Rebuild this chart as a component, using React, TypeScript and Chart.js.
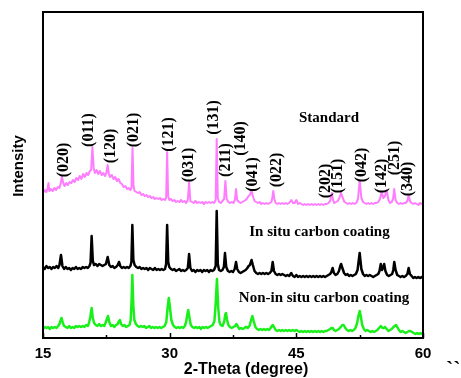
import React, { useEffect, useRef } from "react";
import { Chart, registerables } from "chart.js";

Chart.register(...registerables);

// XRD scans: [2θ (degree), intensity (a.u.)]
const standardScan: [number, number][] = [
  [15.0, 17], [15.2, 20], [15.4, 18], [15.55, 22], [15.65, 27], [15.75, 19], [15.95, 21], [16.15, 19], [16.35, 22], [16.55, 20],
  [16.75, 23], [16.95, 22], [17.1, 27], [17.25, 33], [17.4, 27], [17.55, 24], [17.75, 27], [17.95, 25], [18.15, 28], [18.35, 27],
  [18.55, 30], [18.75, 28], [18.95, 32], [19.15, 30], [19.35, 34], [19.55, 31], [19.75, 36], [19.95, 33], [20.15, 37], [20.35, 35],
  [20.55, 39], [20.7, 40], [20.85, 63], [21.0, 42], [21.15, 37], [21.35, 40], [21.55, 36], [21.75, 39], [21.95, 35], [22.15, 37],
  [22.35, 34], [22.5, 37], [22.66, 45], [22.8, 36], [22.95, 33], [23.15, 35], [23.35, 31], [23.55, 33], [23.75, 29], [23.95, 31],
  [24.15, 27], [24.35, 26], [24.55, 23], [24.75, 24], [24.95, 21], [25.15, 22], [25.35, 20], [25.48, 22], [25.6, 62], [25.72, 24],
  [25.85, 19], [26.05, 18], [26.25, 17], [26.45, 18], [26.65, 15], [26.85, 16], [27.05, 14], [27.25, 15], [27.45, 13], [27.65, 14],
  [27.85, 12], [28.05, 13], [28.25, 11], [28.45, 12], [28.65, 11], [28.85, 12], [29.05, 10], [29.25, 11], [29.45, 10], [29.58, 12],
  [29.7, 58], [29.82, 14], [29.95, 10], [30.15, 11], [30.35, 9], [30.55, 10], [30.75, 8], [30.95, 9], [31.15, 8], [31.35, 10],
  [31.55, 8], [31.75, 9], [31.95, 7], [32.15, 10], [32.3, 28], [32.45, 9], [32.65, 8], [32.85, 7], [33.05, 9], [33.25, 7],
  [33.45, 8], [33.65, 7], [33.85, 8], [34.05, 6], [34.25, 8], [34.45, 7], [34.65, 8], [34.85, 7], [35.05, 8], [35.25, 7],
  [35.45, 10], [35.57, 71], [35.7, 12], [35.85, 8], [36.05, 7], [36.25, 9], [36.45, 11], [36.6, 29], [36.75, 11], [36.95, 8],
  [37.15, 7], [37.35, 8], [37.55, 7], [37.72, 10], [37.86, 21], [38.0, 10], [38.2, 8], [38.4, 7], [38.6, 8], [38.8, 9],
  [39.0, 10], [39.2, 12], [39.35, 14], [39.5, 15], [39.7, 20], [39.85, 14], [40.05, 9], [40.25, 8], [40.45, 7], [40.65, 8],
  [40.85, 6], [41.05, 7], [41.25, 6], [41.45, 7], [41.65, 6], [41.85, 7], [42.05, 8], [42.15, 12], [42.27, 19], [42.4, 11],
  [42.55, 7], [42.75, 6], [42.95, 7], [43.15, 6], [43.35, 7], [43.55, 6], [43.75, 7], [43.95, 6], [44.15, 7], [44.4, 10],
  [44.6, 7], [44.8, 7], [45.0, 10], [45.2, 6], [45.4, 7], [45.6, 6], [45.8, 5], [46.0, 6], [46.2, 5], [46.4, 6],
  [46.6, 5], [46.8, 6], [47.0, 5], [47.2, 6], [47.4, 5], [47.6, 6], [47.8, 5], [48.0, 6], [48.2, 5], [48.4, 6],
  [48.6, 6], [48.8, 7], [49.0, 9], [49.2, 17], [49.35, 10], [49.5, 7], [49.7, 8], [49.9, 9], [50.1, 12], [50.3, 17],
  [50.5, 12], [50.7, 8], [50.9, 7], [51.1, 6], [51.3, 7], [51.5, 6], [51.7, 7], [51.9, 6], [52.1, 7], [52.3, 11],
  [52.5, 30], [52.7, 12], [52.9, 8], [53.1, 7], [53.3, 6], [53.5, 7], [53.7, 6], [53.9, 7], [54.1, 6], [54.3, 7],
  [54.5, 7], [54.7, 8], [54.9, 11], [55.1, 18], [55.3, 12], [55.5, 14], [55.7, 20], [55.9, 10], [56.1, 7], [56.3, 8],
  [56.45, 11], [56.6, 21], [56.75, 10], [56.95, 7], [57.15, 6], [57.35, 7], [57.55, 6], [57.75, 7], [57.95, 7], [58.15, 9],
  [58.3, 15], [58.45, 9], [58.65, 7], [58.85, 6], [59.05, 7], [59.25, 6], [59.45, 5], [59.65, 7], [59.85, 6], [60.0, 7],
];

const inSituScan: [number, number][] = [
  [15.0, 15], [15.2, 13], [15.4, 16], [15.6, 14], [15.8, 15], [16.0, 13], [16.2, 15], [16.4, 14], [16.6, 16], [16.8, 14],
  [16.95, 17], [17.13, 27], [17.3, 16], [17.5, 13], [17.7, 15], [17.9, 13], [18.1, 14], [18.3, 12], [18.5, 14], [18.7, 13],
  [18.9, 15], [19.1, 13], [19.3, 14], [19.5, 13], [19.7, 15], [19.9, 14], [20.1, 15], [20.3, 14], [20.5, 16], [20.63, 19],
  [20.76, 46], [20.9, 21], [21.05, 17], [21.25, 18], [21.45, 16], [21.65, 18], [21.85, 17], [22.05, 16], [22.25, 17], [22.45, 18],
  [22.66, 25], [22.85, 17], [23.05, 15], [23.25, 16], [23.45, 14], [23.65, 15], [23.85, 17], [24.0, 20], [24.15, 16], [24.35, 14],
  [24.55, 15], [24.75, 14], [24.95, 15], [25.15, 14], [25.35, 16], [25.47, 20], [25.58, 57], [25.7, 22], [25.85, 17], [26.05, 15],
  [26.25, 14], [26.45, 15], [26.65, 13], [26.85, 14], [27.05, 13], [27.25, 14], [27.45, 12], [27.65, 14], [27.85, 13], [28.05, 12],
  [28.25, 14], [28.45, 12], [28.65, 13], [28.85, 12], [29.05, 13], [29.25, 12], [29.45, 13], [29.58, 18], [29.7, 57], [29.83, 20],
  [29.95, 15], [30.15, 13], [30.35, 12], [30.55, 13], [30.75, 11], [30.95, 12], [31.15, 13], [31.35, 11], [31.55, 12], [31.75, 11],
  [31.95, 12], [32.15, 14], [32.3, 28], [32.45, 14], [32.65, 11], [32.85, 12], [33.05, 10], [33.25, 12], [33.45, 11], [33.65, 12],
  [33.85, 10], [34.05, 12], [34.25, 11], [34.45, 12], [34.65, 10], [34.85, 12], [35.05, 11], [35.25, 12], [35.45, 16], [35.57, 71],
  [35.7, 18], [35.85, 12], [36.05, 11], [36.25, 12], [36.42, 15], [36.55, 29], [36.7, 15], [36.9, 11], [37.1, 10], [37.3, 11],
  [37.5, 10], [37.7, 13], [37.86, 20], [38.0, 13], [38.2, 10], [38.4, 9], [38.6, 10], [38.8, 11], [39.0, 12], [39.2, 14],
  [39.35, 16], [39.5, 17], [39.7, 22], [39.85, 17], [40.05, 11], [40.25, 9], [40.45, 8], [40.65, 9], [40.85, 8], [41.05, 9],
  [41.25, 8], [41.45, 9], [41.65, 8], [41.85, 9], [42.05, 11], [42.2, 20], [42.35, 11], [42.55, 8], [42.75, 7], [42.95, 8],
  [43.15, 7], [43.35, 8], [43.55, 7], [43.75, 6], [43.95, 7], [44.15, 6], [44.4, 9], [44.6, 6], [44.8, 5], [45.0, 7],
  [45.2, 5], [45.4, 6], [45.6, 5], [45.8, 6], [46.0, 5], [46.2, 6], [46.4, 5], [46.6, 6], [46.8, 5], [47.0, 6],
  [47.2, 5], [47.4, 6], [47.6, 5], [47.8, 6], [48.0, 5], [48.2, 6], [48.4, 5], [48.6, 6], [48.8, 7], [49.0, 8],
  [49.15, 10], [49.3, 14], [49.45, 9], [49.65, 7], [49.85, 8], [50.05, 11], [50.2, 16], [50.3, 18], [50.45, 14], [50.65, 9],
  [50.85, 7], [51.05, 8], [51.25, 6], [51.45, 7], [51.65, 6], [51.85, 7], [52.05, 8], [52.25, 12], [52.5, 29], [52.7, 13],
  [52.9, 8], [53.1, 6], [53.3, 7], [53.5, 6], [53.7, 7], [53.9, 6], [54.1, 5], [54.3, 6], [54.5, 7], [54.7, 8],
  [54.85, 11], [55.0, 18], [55.15, 12], [55.28, 14], [55.4, 18], [55.55, 11], [55.75, 7], [55.95, 6], [56.15, 7], [56.35, 8],
  [56.48, 12], [56.6, 20], [56.75, 12], [56.95, 7], [57.15, 6], [57.35, 5], [57.55, 6], [57.75, 5], [57.95, 6], [58.15, 8],
  [58.3, 14], [58.45, 8], [58.65, 6], [58.85, 4], [59.05, 5], [59.25, 4], [59.45, 5], [59.65, 4], [59.85, 5], [60.0, 4],
];

const nonInSituScan: [number, number][] = [
  [15.0, 9], [15.2, 11], [15.4, 10], [15.6, 11], [15.8, 9], [16.0, 11], [16.2, 10], [16.4, 11], [16.6, 10], [16.8, 12],
  [16.95, 14], [17.1, 18], [17.2, 20], [17.35, 15], [17.5, 12], [17.7, 11], [17.9, 10], [18.1, 12], [18.3, 10], [18.5, 11],
  [18.7, 10], [18.9, 12], [19.1, 11], [19.3, 12], [19.5, 11], [19.7, 12], [19.9, 11], [20.1, 13], [20.3, 12], [20.45, 15],
  [20.6, 21], [20.76, 30], [20.9, 20], [21.05, 15], [21.25, 13], [21.45, 12], [21.65, 14], [21.85, 12], [22.05, 13], [22.25, 12],
  [22.45, 16], [22.6, 20], [22.7, 22], [22.85, 16], [23.05, 12], [23.25, 13], [23.45, 11], [23.65, 13], [23.85, 14], [24.0, 17],
  [24.1, 18], [24.25, 14], [24.45, 12], [24.65, 13], [24.85, 11], [25.05, 12], [25.25, 13], [25.38, 18], [25.48, 35], [25.58, 63],
  [25.7, 32], [25.82, 18], [26.0, 14], [26.2, 12], [26.4, 11], [26.6, 12], [26.8, 11], [27.0, 12], [27.2, 10], [27.4, 11],
  [27.6, 12], [27.8, 10], [28.0, 11], [28.2, 10], [28.4, 11], [28.6, 10], [28.8, 11], [29.0, 10], [29.2, 11], [29.4, 12],
  [29.6, 16], [29.75, 30], [29.9, 40], [30.05, 29], [30.2, 18], [30.4, 13], [30.6, 11], [30.8, 10], [31.0, 11], [31.2, 10],
  [31.4, 11], [31.6, 10], [31.8, 12], [31.95, 16], [32.1, 24], [32.2, 28], [32.35, 20], [32.5, 13], [32.7, 11], [32.9, 10],
  [33.1, 11], [33.3, 10], [33.5, 11], [33.7, 9], [33.9, 11], [34.1, 10], [34.3, 11], [34.5, 10], [34.7, 11], [34.9, 12],
  [35.1, 13], [35.3, 17], [35.45, 35], [35.6, 59], [35.75, 30], [35.9, 16], [36.05, 13], [36.25, 12], [36.45, 16], [36.6, 24],
  [36.67, 25], [36.8, 18], [36.95, 13], [37.15, 11], [37.35, 10], [37.55, 11], [37.75, 12], [37.9, 14], [38.05, 12], [38.25, 9],
  [38.45, 10], [38.65, 9], [38.85, 10], [39.0, 11], [39.1, 11], [39.25, 10], [39.45, 12], [39.65, 18], [39.8, 22], [39.95, 17],
  [40.15, 11], [40.35, 9], [40.55, 8], [40.75, 9], [40.95, 8], [41.15, 9], [41.35, 8], [41.55, 9], [41.75, 8], [41.95, 10],
  [42.1, 12], [42.2, 13], [42.35, 11], [42.55, 8], [42.75, 7], [42.95, 8], [43.15, 7], [43.35, 8], [43.55, 7], [43.75, 8],
  [43.95, 7], [44.15, 8], [44.35, 7], [44.55, 8], [44.75, 7], [45.0, 8], [45.2, 7], [45.4, 6], [45.6, 7], [45.8, 6],
  [46.0, 7], [46.2, 6], [46.4, 7], [46.6, 6], [46.8, 7], [47.0, 6], [47.2, 7], [47.4, 6], [47.6, 7], [47.8, 6],
  [48.0, 7], [48.2, 6], [48.4, 7], [48.6, 7], [48.8, 8], [49.0, 9], [49.15, 10], [49.3, 10], [49.45, 8], [49.65, 7],
  [49.85, 8], [50.05, 9], [50.25, 11], [50.45, 13], [50.6, 13], [50.8, 10], [51.0, 8], [51.2, 7], [51.4, 8], [51.6, 7],
  [51.8, 8], [52.0, 10], [52.2, 15], [52.35, 22], [52.5, 27], [52.65, 21], [52.8, 13], [53.0, 9], [53.2, 7], [53.4, 8],
  [53.6, 7], [53.8, 6], [54.0, 7], [54.2, 6], [54.4, 7], [54.6, 8], [54.8, 10], [55.0, 12], [55.2, 10], [55.35, 10],
  [55.5, 11], [55.7, 9], [55.9, 7], [56.1, 8], [56.3, 9], [56.5, 11], [56.65, 12], [56.8, 13], [56.95, 11], [57.15, 8],
  [57.35, 6], [57.55, 7], [57.75, 6], [57.95, 5], [58.15, 6], [58.35, 7], [58.5, 7], [58.7, 6], [58.9, 5], [59.1, 4],
  [59.3, 5], [59.5, 4], [59.7, 5], [59.9, 4], [60.0, 5],
];

// Vertical stacking of the three scans
const seriesNames = ["Standard", "In situ carbon coating", "Non-in situ carbon coating"];
const seriesOffsets = [128, 56, 0];
const seriesColors = ["#ff7cff", "#000000", "#19f019"];
const seriesWidths = [2, 2.5, 2.5];

// Sample name annotations: anchor 2θ and stacked level
const nameTheta = [48.87, 47.74, 48.28];
const nameLevel = [220, 106, 40];

// Miller indices of the reference pattern
const hklNames = ["(020)", "(011)", "(120)", "(021)", "(121)", "(031)", "(131)", "(211)", "(140)", "(041)", "(022)", "(202)", "(151)", "(042)", "(142)", "(251)", "(340)"];
const hklTheta = [17.47, 20.48, 23.05, 25.81, 29.96, 32.33, 35.29, 36.64, 38.41, 39.81, 42.65, 48.51, 49.97, 52.74, 55.11, 56.69, 58.2];
const hklLevel = [178, 208, 192, 208, 203.5, 173, 220.5, 178, 199.5, 163.5, 168, 157, 162, 173, 162, 180, 159];

const xTicks = [15, 30, 45, 60];
const xMinorTicks = [22.5, 37.5, 52.5];

const X_MIN = 15;
const X_MAX = 60;
const Y_MAX = 326;

const annotations = {
  id: "xrdAnnotations",
  afterDraw(chart: any) {
    const { ctx, chartArea, scales } = chart;
    const xs = scales.x;
    const ys = scales.y;
    const { left, right, top, bottom } = chartArea;
    ctx.save();

    // Frame
    ctx.strokeStyle = "#000";
    ctx.lineWidth = 2;
    ctx.strokeRect(left, top, right - left, bottom - top);

    // Inward ticks on the bottom axis
    ctx.lineWidth = 1.5;
    ctx.beginPath();
    xTicks.forEach((t) => {
      const px = Math.round(xs.getPixelForValue(t)) + 0.5;
      ctx.moveTo(px, bottom);
      ctx.lineTo(px, bottom - 5);
    });
    xMinorTicks.forEach((t) => {
      const px = Math.round(xs.getPixelForValue(t)) + 0.5;
      ctx.moveTo(px, bottom);
      ctx.lineTo(px, bottom - 3);
    });
    ctx.stroke();

    // Tick labels
    ctx.fillStyle = "#000";
    ctx.font = 'bold 15px "Liberation Sans", Arial, sans-serif';
    ctx.textAlign = "center";
    ctx.textBaseline = "alphabetic";
    xTicks.forEach((t) => {
      ctx.fillText(String(t), xs.getPixelForValue(t), 358);
    });

    // Axis titles
    ctx.font = 'bold 16px "Liberation Sans", Arial, sans-serif';
    ctx.fillText("2-Theta (degree)", 246, 374);
    ctx.save();
    ctx.translate(23, 166);
    ctx.rotate(-Math.PI / 2);
    ctx.font = 'bold 15px "Liberation Sans", Arial, sans-serif';
    ctx.fillText("Intensity", 0, 0);
    ctx.restore();

    // Sample names
    ctx.font = 'bold 15px "Liberation Serif", "Times New Roman", serif';
    ctx.textBaseline = "middle";
    seriesNames.forEach((name, i) => {
      ctx.fillText(name, xs.getPixelForValue(nameTheta[i]), ys.getPixelForValue(nameLevel[i]));
    });

    // Miller indices
    ctx.font = 'bold 16px "Liberation Serif", "Times New Roman", serif';
    hklNames.forEach((name, i) => {
      ctx.save();
      ctx.translate(xs.getPixelForValue(hklTheta[i]), ys.getPixelForValue(hklLevel[i]));
      ctx.rotate(-Math.PI / 2);
      ctx.fillText(name, 0, 0);
      ctx.restore();
    });

    // Small marks at the lower right corner
    ctx.font = 'bold 22px "Liberation Serif", serif';
    ctx.textAlign = "left";
    ctx.textBaseline = "alphabetic";
    ctx.fillText("``", 446, 376);

    ctx.restore();
  },
};

export default function App() {
  const canvasRef = useRef<HTMLCanvasElement | null>(null);

  useEffect(() => {
    document.body.style.margin = "0";
    const canvas = canvasRef.current;
    if (!canvas) return;

    const scans = [standardScan, inSituScan, nonInSituScan];
    const datasets = scans.map((scan, i) => ({
      label: seriesNames[i],
      data: scan.map(([t, v]) => ({ x: t, y: v + seriesOffsets[i] })),
      borderColor: seriesColors[i],
      backgroundColor: seriesColors[i],
      borderWidth: seriesWidths[i],
      pointRadius: 0,
      tension: 0,
      fill: false,
      borderJoinStyle: "round" as const,
    }));

    const chart = new Chart(canvas, {
      type: "line",
      data: { datasets },
      options: {
        animation: false,
        responsive: false,
        maintainAspectRatio: false,
        events: [],
        layout: { padding: { left: 43, right: 38, top: 12, bottom: 40 } },
        plugins: {
          legend: { display: false },
          tooltip: { enabled: false },
        },
        scales: {
          x: { type: "linear", min: X_MIN, max: X_MAX, display: false },
          y: { type: "linear", min: 0, max: Y_MAX, display: false },
        },
      },
      plugins: [annotations],
    });

    return () => chart.destroy();
  }, []);

  return (
    <div style={{ width: 461, height: 378, background: "#fff" }}>
      <canvas ref={canvasRef} width={461} height={378} style={{ display: "block" }} />
    </div>
  );
}
